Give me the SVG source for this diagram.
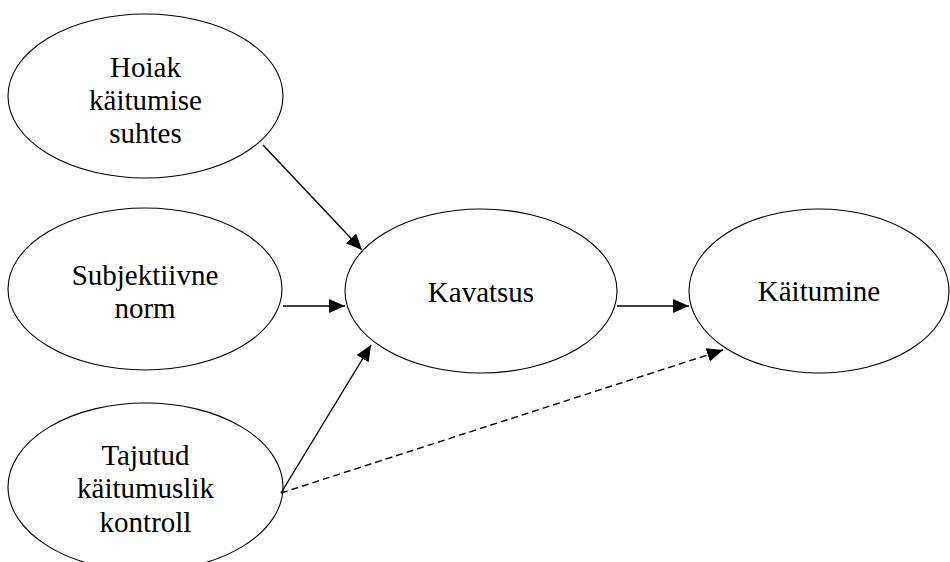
<svg xmlns="http://www.w3.org/2000/svg" width="950" height="562" viewBox="0 0 950 562">
<style>
.n ellipse{fill:#fff;stroke:#000;stroke-width:1.1}
.n text{font-family:'Liberation Serif','Times New Roman',serif;font-size:29px;fill:#000;text-anchor:middle}
.c line{stroke:#000;stroke-width:1.4;fill:none}
.c .d{stroke-dasharray:7,4}
</style>
<defs>
<marker id="ah" markerUnits="userSpaceOnUse" markerWidth="18" markerHeight="16" refX="16" refY="7" orient="auto">
<path d="M0,0 L16,7 L0,14 Z" fill="#000"/>
</marker>
</defs>
<rect width="950" height="562" fill="#fff"/>
<g id="hoiak" class="n">
<ellipse cx="145.5" cy="96" rx="137.5" ry="82"/>
<text x="145.5" y="77">Hoiak</text>
<text x="145.5" y="110">käitumise</text>
<text x="145.5" y="143">suhtes</text>
</g>
<g id="subjektiivne" class="n">
<ellipse cx="145" cy="289" rx="137" ry="81"/>
<text x="145" y="285">Subjektiivne</text>
<text x="145" y="318">norm</text>
</g>
<g id="tajutud" class="n">
<ellipse cx="145.5" cy="487" rx="137.5" ry="84"/>
<text x="145.5" y="465">Tajutud</text>
<text x="145.5" y="498">käitumuslik</text>
<text x="145.5" y="532">kontroll</text>
</g>
<g id="kavatsus" class="n">
<ellipse cx="481" cy="291" rx="136" ry="82"/>
<text x="481" y="302">Kavatsus</text>
</g>
<g id="kaitumine" class="n">
<ellipse cx="819" cy="291" rx="130" ry="82"/>
<text x="819" y="301">Käitumine</text>
</g>
<g id="connectors" class="c">
<line x1="263" y1="145" x2="362" y2="250" marker-end="url(#ah)"/>
<line x1="283" y1="306" x2="345" y2="306" marker-end="url(#ah)"/>
<line x1="281" y1="493" x2="371" y2="345" marker-end="url(#ah)"/>
<line class="d" x1="281" y1="493" x2="723" y2="350" marker-end="url(#ah)"/>
<line x1="617" y1="306" x2="689" y2="306" marker-end="url(#ah)"/>
</g>
</svg>
